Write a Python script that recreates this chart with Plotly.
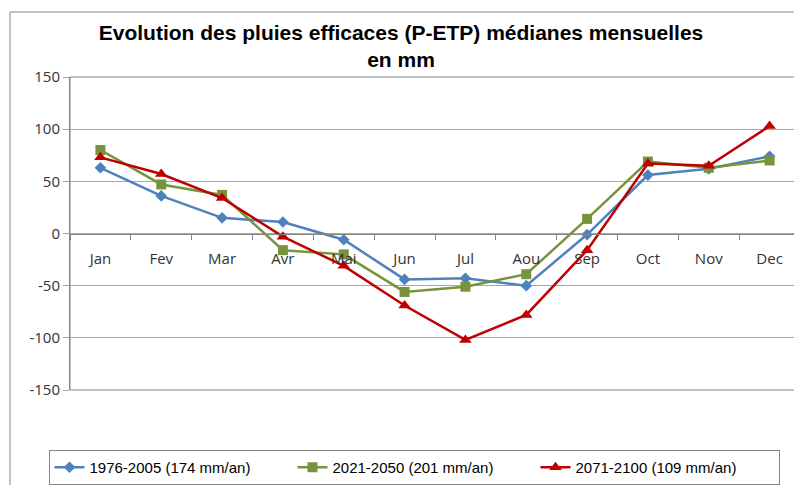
import plotly.graph_objects as go

months = ["Jan", "Fev", "Mar", "Avr", "Mai", "Jun", "Jul", "Aou", "Sep", "Oct", "Nov", "Dec"]
s1_name = "1976-2005 (174 mm/an)"
s1 = [63, 36, 15, 11, -6, -44, -43, -50, -1, 56, 62, 74]
s2_name = "2021-2050 (201 mm/an)"
s2 = [80, 47, 37, -16, -20, -56, -51, -39, 14, 69, 63, 70]
s3_name = "2071-2100 (109 mm/an)"
s3 = [73, 57, 34, -3, -31, -69, -102, -78, -16, 67, 65, 103]
y_ticks = [-150, -100, -50, 0, 50, 100, 150]
y_tick_labels = ["-150", "-100", "-50", "0", "50", "100", "150"]

fig = go.Figure()
fig.add_trace(go.Scatter(x=months, y=s1, name=s1_name, mode="lines+markers",
                         line=dict(color="#4F81BD", width=2.5),
                         marker=dict(symbol="diamond", size=9, color="#4F81BD")))
fig.add_trace(go.Scatter(x=months, y=s2, name=s2_name, mode="lines+markers",
                         line=dict(color="#77933C", width=2.5),
                         marker=dict(symbol="square", size=10, color="#77933C")))
fig.add_trace(go.Scatter(x=months, y=s3, name=s3_name, mode="lines+markers",
                         line=dict(color="#C00000", width=2.5),
                         marker=dict(symbol="triangle-up", size=11, color="#C00000")))

# page body adds an 8px offset; work in figure coordinates
W, H = 794, 477
L, R, T, B = 62, 2, 69, 95
pw, ph = W - L - R, H - T - B

fig.update_layout(
    width=W, height=H,
    margin=dict(l=L, r=R, t=T, b=B),
    paper_bgcolor="white", plot_bgcolor="white",
    font=dict(family="Open Sans, DejaVu Sans, sans-serif", size=14, color="#333333"),
    title=dict(text="<b>Evolution des pluies efficaces (P-ETP) médianes mensuelles<br>en mm</b>",
               x=393 / W, xref="container", xanchor="center", y=1 - 32 / H, yanchor="middle",
               font=dict(family="Liberation Sans, Arial, sans-serif",
                         size=21, color="#000000")),
    showlegend=True,
    legend=dict(orientation="h", x=406 / W, xref="container", xanchor="center",
                y=1 - 442 / H, yref="container", yanchor="top",
                bordercolor="#868686", borderwidth=1, bgcolor="white",
                font=dict(family="Liberation Sans, Arial, sans-serif",
                          size=15, color="#000000"),
                entrywidth=198, itemwidth=30, tracegroupgap=0),
    xaxis=dict(type="category", anchor="free", position=0.5, showgrid=False,
               showline=True, linecolor="#868686", linewidth=1,
               ticks="outside", ticklen=5, tickcolor="#868686", tickson="boundaries",
               range=[-0.5, 11.5], zeroline=False, ticklabelstandoff=11,
               tickfont=dict(size=15, color="#333333")),
    yaxis=dict(range=[-150, 150], tickvals=y_ticks, ticktext=y_tick_labels,
               showgrid=True, gridcolor="#a6a6a6",
               gridwidth=1, zeroline=False, showline=True, linecolor="#868686",
               ticks="outside", ticklen=6, tickcolor="#a6a6a6",
               tickfont=dict(size=15, color="#333333")),
    shapes=[
        dict(type="rect", xref="paper", yref="paper", x0=0, x1=1, y0=0, y1=1,
             line=dict(color="#868686", width=1), layer="below"),
        dict(type="rect", xref="paper", yref="paper",
             x0=(2 - L) / pw, x1=(W + 20 - L) / pw,
             y0=-(H + 20 - T - ph) / ph, y1=(ph + T - 4) / ph,
             line=dict(color="#868686", width=1), layer="below"),
    ],
)

fig.write_html("out.html")
